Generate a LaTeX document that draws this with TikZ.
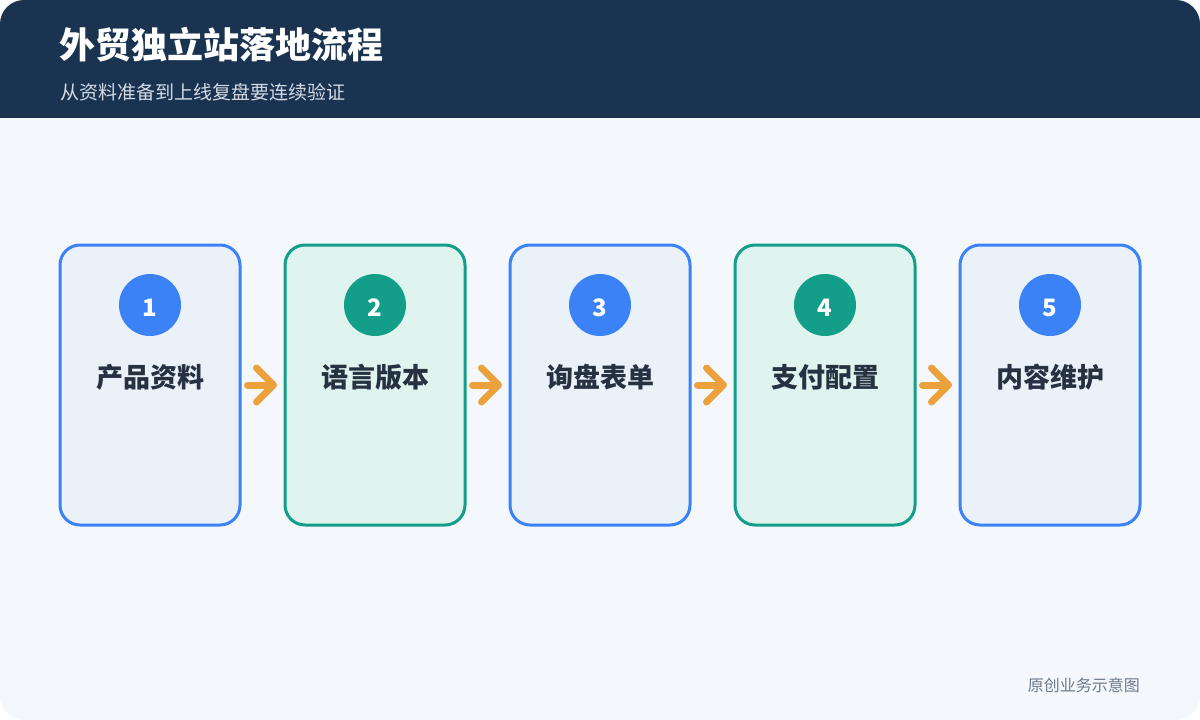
\documentclass[tikz,border=0pt]{standalone}
\usepackage{fontspec}
\setmainfont{Noto Sans CJK SC}
\usetikzlibrary{arrows.meta,calc}
\definecolor{navy}{HTML}{1A3350}
\definecolor{bodybg}{HTML}{F4F8FC}
\definecolor{subgray}{HTML}{D3DBE6}
\definecolor{bluec}{HTML}{3B82F6}
\definecolor{bluefill}{HTML}{EAF1F9}
\definecolor{greenc}{HTML}{129E88}
\definecolor{greenfill}{HTML}{DFF3EF}
\definecolor{labeltext}{HTML}{263241}
\definecolor{orangec}{HTML}{EBA23C}
\definecolor{footgray}{HTML}{6B7A8F}
\tikzset{
  stepbox/.style={draw, line width=3pt, rounded corners=20pt, minimum width=180pt, minimum height=280pt, outer sep=0pt, inner sep=0pt},
  bluebox/.style={stepbox, draw=bluec, fill=bluefill},
  greenbox/.style={stepbox, draw=greenc, fill=greenfill},
  badge/.style={circle, minimum size=62pt, inner sep=0pt},
  badgenum/.style={anchor=base, text=white, font=\fontsize{24}{24}\selectfont\bfseries, inner sep=0pt},
  steplabel/.style={anchor=base, text=labeltext, font=\fontsize{27}{27}\selectfont\bfseries, inner sep=0pt},
  flowarrow/.style={draw=orangec, line width=7pt, line cap=round, shorten <=7.5pt, shorten >=8pt,
    -{Straight Barb[length=17pt, width=34pt, round]}},
}
\begin{document}
\begin{tikzpicture}[x=1pt,y=-1pt]
\useasboundingbox (0,0) rectangle (1200,720);
\fill[white] (0,0) rectangle (1200,720);
\begin{scope}
  \clip[rounded corners=24pt] (0,0) rectangle (1200,720);
  \fill[bodybg] (0,0) rectangle (1200,720);
  \fill[navy] (0,0) rectangle (1200,118);
\end{scope}
\node[anchor=base west, inner sep=0pt, text=white, font=\fontsize{36}{36}\selectfont\bfseries] (title) at (59,58) {外贸独立站落地流程};
\node[anchor=base west, inner sep=0pt, text=subgray, font=\fontsize{19}{19}\selectfont] (subtitle) at (60,99) {从资料准备到上线复盘要连续验证};

\node[bluebox] (b1) at (150,385) {};
\node[greenbox] (b2) at (375,385) {};
\node[bluebox] (b3) at (600,385) {};
\node[greenbox] (b4) at (825,385) {};
\node[bluebox] (b5) at (1050,385) {};

\node[badge, fill=bluec] (c1) at (150,305) {};
\node[badge, fill=greenc] (c2) at (375,305) {};
\node[badge, fill=bluec] (c3) at (600,305) {};
\node[badge, fill=greenc] (c4) at (825,305) {};
\node[badge, fill=bluec] (c5) at (1050,305) {};

\node[badgenum] (n1) at (150,316) {1};
\node[badgenum] (n2) at (375,316) {2};
\node[badgenum] (n3) at (600,316) {3};
\node[badgenum] (n4) at (825,316) {4};
\node[badgenum] (n5) at (1050,316) {5};

\node[steplabel] (l1) at (150,387) {产品资料};
\node[steplabel] (l2) at (375,387) {语言版本};
\node[steplabel] (l3) at (600,387) {询盘表单};
\node[steplabel] (l4) at (825,387) {支付配置};
\node[steplabel] (l5) at (1050,387) {内容维护};

\draw[flowarrow] (b1.east) -- (b2.west);
\draw[flowarrow] (b2.east) -- (b3.west);
\draw[flowarrow] (b3.east) -- (b4.west);
\draw[flowarrow] (b4.east) -- (b5.west);

\node[anchor=base east, inner sep=0pt, text=footgray, font=\fontsize{16}{16}\selectfont] (foot) at (1140,691) {原创业务示意图};
\end{tikzpicture}
\end{document}
